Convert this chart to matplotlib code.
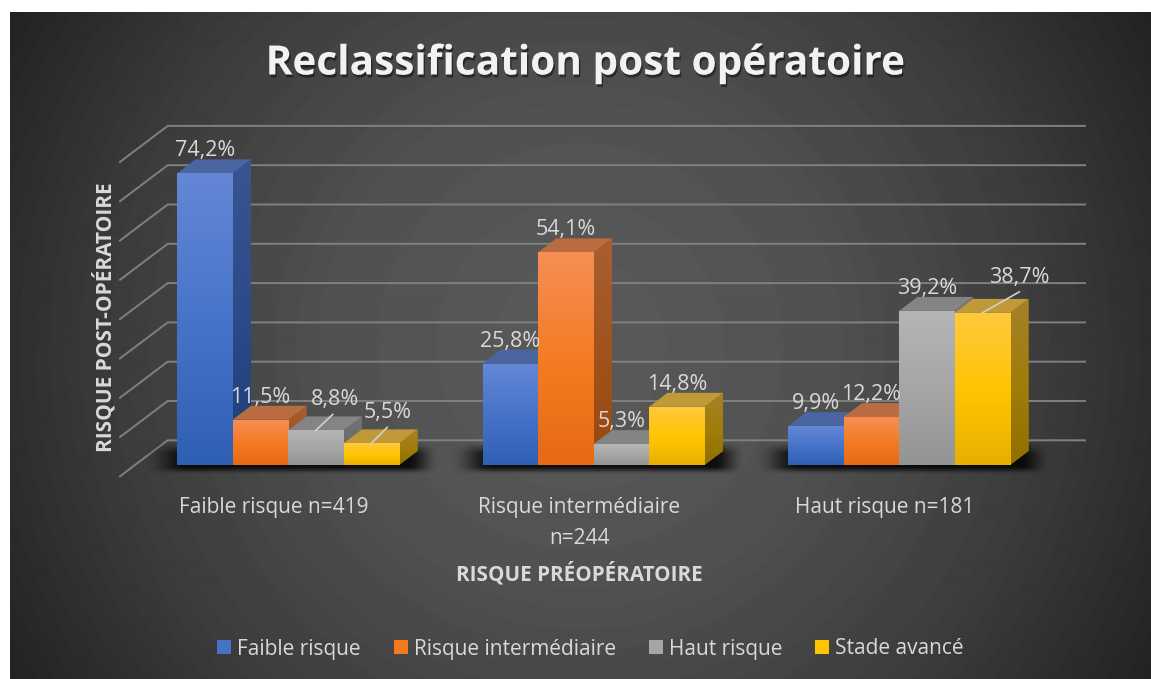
"""Reclassification post opératoire : barres pseudo-3D sur fond sombre."""
import numpy as np
import matplotlib

matplotlib.use("Agg")
import matplotlib.pyplot as plt
import matplotlib.patheffects as pe
from matplotlib.patches import Patch, Polygon

# données
categories = ["Faible risque n=419", "Risque intermédiaire\nn=244", "Haut risque n=181"]
series_names = ["Faible risque", "Risque intermédiaire", "Haut risque", "Stade avancé"]
faible = [74.2, 25.8, 9.9]
intermediaire = [11.5, 54.1, 12.2]
haut = [8.8, 5.3, 39.2]
avance = [5.5, 14.8, 38.7]
y_ticks = [0, 10, 20, 30, 40, 50, 60, 70, 80]

# décalage des étiquettes déplacées par rapport au centre du haut de barre (px)
moved_labels = {(0, 2): (19, 31), (0, 3): (16, 31), (2, 3): (37, 35)}
leaders = {(0, 2): (17, 16), (0, 3): (16, 16), (2, 3): (37, 21)}

# couleurs : haut / milieu / bas de chaque face
FRONT = [("#6487d6", "#4472c8", "#2f5fb4"), ("#f68e55", "#f47a20", "#e76a14"),
         ("#b5b5b5", "#a5a5a5", "#949494"), ("#ffc93c", "#ffc400", "#e6b000")]
SIDE = [("#3a5590", "#2a4a88", "#1f3e78"), ("#a85f30", "#a0521c", "#97480f"),
        ("#727272", "#6c6c6c", "#626262"), ("#a5812a", "#a07c08", "#8f7000")]
TOP = ["#4a659f", "#b96c40", "#848484", "#c09a38"]
LEGEND = ["#4472c4", "#f47a20", "#a5a5a5", "#ffc400"]
TEXT = "#d9d9d9"
FONT = "Open Sans"

W, H = 1151, 679
PX_X = 305.5      # pixels par catégorie
PX_Y = 3.93       # pixels par point de %
X0, Y0 = 288.0, 465.0
BAR_W = 55.5 / PX_X
DX, DY = 18.5 / PX_X, 14 / PX_Y
WALL_DY = 24.7 / PX_Y


def px(x, y):
    """Pixel image -> coordonnées des données."""
    return (x - X0) / PX_X, (Y0 - y) / PX_Y


def hex_rgb(c):
    return np.array(matplotlib.colors.to_rgb(c))


def gradient(ax, patch, stops, z):
    """Remplit un patch d'un dégradé vertical à trois couleurs."""
    ext = patch.get_path().vertices
    ext = patch.get_patch_transform().transform(ext) if hasattr(patch, "get_width") else ext
    t = np.linspace(0, 1, 64)
    cols = np.stack([np.interp(t, [0, .55, 1], [hex_rgb(s)[k] for s in stops]) for k in range(3)], axis=1)
    im = ax.imshow(cols[:, None, :], aspect="auto", origin="upper", zorder=z, interpolation="bilinear",
                   extent=(ext[:, 0].min(), ext[:, 0].max(), ext[:, 1].min(), ext[:, 1].max()))
    im.set_clip_path(patch)


def draw_bar(ax, x, value, s, z):
    left, right = x - BAR_W / 2, x + BAR_W / 2
    side = Polygon([(right, 0), (right + DX, DY), (right + DX, value + DY), (right, value)],
                   closed=True, fc=SIDE[s][1], ec="none", zorder=z)
    ax.add_patch(side)
    gradient(ax, side, SIDE[s], z + .1)
    ax.add_patch(Polygon([(left, value), (left + DX, value + DY), (right + DX, value + DY), (right, value)],
                         closed=True, fc=TOP[s], ec="none", zorder=z + .2))
    rect = ax.bar(x, value, BAR_W, color=FRONT[s][1], zorder=z + .3)[0]
    gradient(ax, rect, FRONT[s], z + .4)


def smooth(a):
    a = np.clip(a, 0, 1)
    return a * a * (3 - 2 * a)


def shadow(ax, i):
    """Ombre floue au sol sous un groupe de barres."""
    x0 = X0 + i * PX_X
    xs = np.linspace(x0 - 145, x0 + 155, 240)
    ys = np.linspace(440, 476, 60)
    sx = smooth((xs - (x0 - 145)) / 45) * smooth(((x0 + 152) - xs) / 32)
    sy = smooth((ys - 441) / 14) * smooth((475 - ys) / 9)
    rgba = np.zeros((ys.size, xs.size, 4))
    rgba[..., 3] = .85 * np.outer(sy, sx)
    l, t = px(xs[0], ys[0])
    r, b = px(xs[-1], ys[-1])
    ax.imshow(rgba, aspect="auto", origin="upper", extent=(l, r, b, t), zorder=3, interpolation="bilinear")


plt.rcParams["font.family"] = [FONT, "DejaVu Sans"]
fig = plt.figure(figsize=(W / 100, H / 100), dpi=100, facecolor="white")
ax = fig.add_axes([0, 0, 1, 1])
ax.axis("off")

# fond : dégradé radial à bandes légères
yy, xx = np.mgrid[13:H, 10:W]
dist = np.hypot(xx - 580, yy - 346) / 660
shade = np.interp(dist, [0, .35, .7, 1], [0x5a, 0x52, 0x3c, 0x22])
shade = np.round(shade / 2) * 2 / 255
l, t = px(10, 13)
r, b = px(W, H)
ax.imshow(np.clip(shade, 0, 1), cmap="gray", vmin=0, vmax=1, aspect="auto", origin="upper",
          extent=(l, r, b, t), zorder=0)

# quadrillage : mur du fond et retour à gauche
wall_left, wall_right = px(167.7, 0)[0], px(1085, 0)[0]
wing_left = px(120, 0)[0]
wing_drop = 36 / PX_Y
for tick in y_ticks:
    wy = tick + WALL_DY
    ax.plot([wing_left, wall_left, wall_right], [wy - wing_drop, wy, wy], color="#808080", lw=1.4,
            solid_joinstyle="miter", zorder=1)

series = [faible, intermediaire, haut, avance]
z = 5
for i in range(len(categories)):
    shadow(ax, i)
    for s, vals in enumerate(series):
        draw_bar(ax, i + (s - 1.5) * BAR_W, vals[i], s, z)
        z += 1

# étiquettes de valeurs
for i in range(len(categories)):
    for s, vals in enumerate(series):
        x, v = i + (s - 1.5) * BAR_W, vals[i]
        off = moved_labels.get((i, s), (0, 22.5))
        ax.annotate(f"{v:.1f}%".replace(".", ","), (x, v), xytext=off, textcoords="offset pixels",
                    ha="center", va="center", color=TEXT, fontsize=15.5, zorder=200)
        if (i, s) in leaders:
            ldx, ldy = leaders[(i, s)]
            ax.plot([x, x + ldx / PX_X], [v, v + ldy / PX_Y], color="#d0d0d0", lw=1.2, zorder=199)

# libellés de catégories
for i, cat in enumerate(categories):
    cx, cy = px(X0 + i * PX_X - 14, 497.5)
    ax.text(cx, cy, cat, ha="center", va="top", color=TEXT, fontsize=15, linespacing=1.6, zorder=200)

tx, ty = px(585, 64)
ax.text(tx, ty, "Reclassification post opératoire", ha="center", va="center", color="#f2f2f2",
        fontsize=29.2, fontweight="bold", zorder=200,
        path_effects=[pe.withSimplePatchShadow(offset=(1, -2), shadow_rgbFace="black", alpha=.45)])

tx, ty = px(579.5, 574)
ax.text(tx, ty, "RISQUE PRÉOPÉRATOIRE", ha="center", va="center", color=TEXT, fontsize=14.9,
        fontweight="bold", zorder=200)
tx, ty = px(105, 317)
ax.text(tx, ty, "RISQUE POST-OPÉRATOIRE", ha="center", va="center", rotation=90, color=TEXT,
        fontsize=15, fontweight="bold", zorder=200)

handles = [Patch(fc=c, ec="none", label=n) for c, n in zip(LEGEND, series_names)]
ax.legend(handles=handles, ncol=4, loc="center", bbox_to_anchor=(590.5 / W, 1 - 649 / H), frameon=False,
          labelcolor=TEXT, fontsize=15, handlelength=.67, handleheight=.67, handletextpad=.3,
          columnspacing=1.57)

ax.set_xlim(px(0, 0)[0], px(W, 0)[0])
ax.set_ylim(px(0, H)[1], px(0, 0)[1])
fig.savefig("out.png", dpi=100, facecolor="white")
